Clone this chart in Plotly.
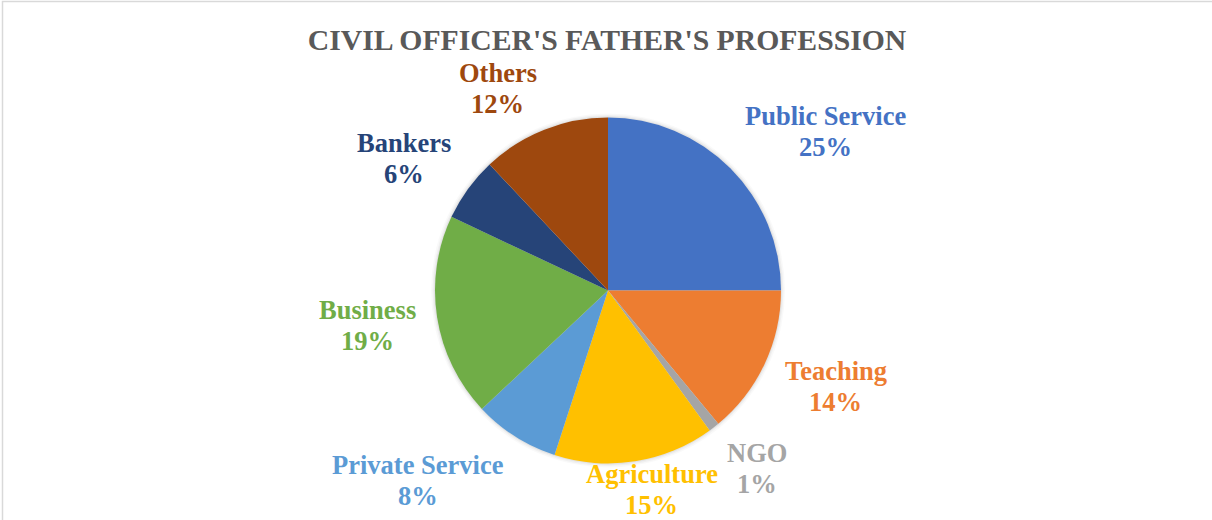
import math
import plotly.graph_objects as go

# Father's profession of civil officers (percent of respondents)
categories = ["Public Service", "Teaching", "NGO", "Agriculture",
              "Private Service", "Business", "Bankers", "Others"]
percentages = [25, 14, 1, 15, 8, 19, 6, 12]
colors = ["#4472C4", "#ED7D31", "#A5A5A5", "#FFC000",
          "#5B9BD5", "#70AD47", "#264478", "#9E480E"]
title_text = "CIVIL OFFICER'S FATHER'S PROFESSION"

W, H = 1212, 520
CX, CY, R = 608.0, 290.5, 173.0          # pie centre and radius in px
LABEL_SIZE = 26.5
LINE_GAP = 31                             # baseline distance of the two label lines
LABEL_R = R + 21                          # radius of the label anchor points
BOX_H = 62                                # height of a two-line label box
PLOT_TOP = 58                             # labels stay below the title band
SERIF = "Liberation Serif, Times New Roman, serif"

# Times-Bold advance widths (1/1000 em) used to size label boxes
ADV = {" ": 250, "%": 1000, "A": 722, "B": 667, "C": 722, "G": 778, "N": 722,
       "O": 778, "P": 611, "S": 556, "T": 667, "a": 500, "b": 556, "c": 444,
       "e": 444, "g": 500, "h": 556, "i": 278, "k": 556, "l": 278, "n": 556,
       "o": 500, "r": 444, "s": 389, "t": 333, "u": 556, "v": 500}


def text_width(s, size):
    return sum(ADV.get(ch, 500 if ch.isdigit() else 550) for ch in s) * size / 1000.0


def place_label(theta, w, h):
    """Centre of a w x h label box hung outside the slice's mid-angle anchor."""
    s, c = math.sin(theta), math.cos(theta)
    # side the box hangs on: centred near the poles, fully beside elsewhere
    g = math.copysign(min(1.0, (abs(s) / 0.35) ** 2), s)
    bx = CX + LABEL_R * s + g * w / 2
    by = CY - LABEL_R * c - c * h / 2
    by = max(min(by, H - h / 2), PLOT_TOP + h / 2)
    bx = max(min(bx, W - w / 2), w / 2)
    return bx, by


fig = go.Figure()

# soft outer shadow around the pie
for extra, alpha in [(4.0, 0.025), (2.5, 0.035), (1.2, 0.05)]:
    rr = R + extra
    fig.add_shape(type="circle", xref="paper", yref="paper", layer="below",
                  x0=(CX - rr) / W, x1=(CX + rr) / W,
                  y0=1 - (CY + rr) / H, y1=1 - (CY - rr) / H,
                  line=dict(width=0), fillcolor=f"rgba(0,0,0,{alpha})")

fig.add_trace(go.Pie(
    labels=categories,
    values=percentages,
    sort=False,
    direction="clockwise",
    rotation=0,
    marker=dict(colors=colors, line=dict(width=0)),
    textinfo="none",
    hoverinfo="label+percent",
    showlegend=False,
    domain=dict(x=[(CX - R) / W, (CX + R) / W],
                y=[1 - (CY + R) / H, 1 - (CY - R) / H]),
))

# data labels: category name over its share, coloured like the slice
total = sum(percentages)
cum = 0.0
for name, val, col in zip(categories, percentages, colors):
    theta = 2 * math.pi * (cum + val / 2) / total
    cum += val
    pct = f"{val}%"
    w = max(text_width(name, LABEL_SIZE), text_width(pct, LABEL_SIZE))
    bx, by = place_label(theta, w, BOX_H)
    for txt, yy in [(name, by - LINE_GAP / 2), (pct, by + LINE_GAP / 2)]:
        fig.add_annotation(x=bx / W, y=1 - yy / H, xref="paper", yref="paper",
                           text=f"<b>{txt}</b>", showarrow=False,
                           xanchor="center", yanchor="middle",
                           font=dict(family=SERIF, size=LABEL_SIZE, color=col))

# chart frame (top and left edges visible)
fig.add_shape(type="rect", xref="paper", yref="paper",
              x0=2.5 / W, x1=1.02, y0=-0.02, y1=1 - 1.5 / H,
              line=dict(color="#D9D9D9", width=1.5), fillcolor="rgba(0,0,0,0)")

fig.update_layout(
    width=W, height=H,
    margin=dict(l=0, r=0, t=0, b=0),
    paper_bgcolor="white",
    plot_bgcolor="white",
    title=dict(text=f"<b>{title_text}</b>", x=607 / W, xanchor="center",
               y=1 - 40 / H, yanchor="middle",
               font=dict(family=SERIF, size=29.7, color="#595959")),
)

fig.write_html("out.html")
